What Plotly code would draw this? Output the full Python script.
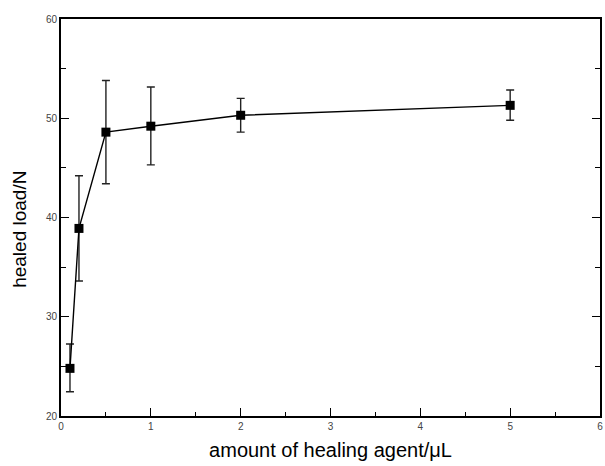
import plotly.graph_objects as go

amount = [0.1, 0.2, 0.5, 1, 2, 5]
load = [24.8, 38.9, 48.6, 49.2, 50.3, 51.3]
err_plus = [2.45, 5.3, 5.2, 3.95, 1.7, 1.55]
err_minus = [2.35, 5.3, 5.2, 3.9, 1.7, 1.5]

x_ticks = [0, 1, 2, 3, 4, 5, 6]
y_ticks = [20, 30, 40, 50, 60]

fig = go.Figure()
fig.add_trace(go.Scatter(
    x=amount, y=load, mode="lines+markers",
    line=dict(color="black", width=1.4),
    marker=dict(symbol="square", size=9, color="black"),
    error_y=dict(type="data", symmetric=False, array=err_plus, arrayminus=err_minus,
                 color="#222", thickness=1.4, width=4),
    showlegend=False,
))

font = "Arial, Liberation Sans, sans-serif"
fig.update_layout(
    width=605, height=466,
    margin=dict(l=61, r=3, t=19, b=50),
    paper_bgcolor="white", plot_bgcolor="white",
    font=dict(family=font, color="black"),
    xaxis=dict(
        range=[0, 6], tickvals=x_ticks, ticktext=[str(v) for v in x_ticks],
        ticks="inside", ticklen=8, tickwidth=1.4, tickcolor="black",
        minor=dict(dtick=0.5, ticks="inside", ticklen=4, tickwidth=1.4, tickcolor="black"),
        showline=True, linecolor="black", linewidth=1.6, mirror=True,
        showgrid=False, zeroline=False,
        tickfont=dict(size=10, color="#444", family=font),
        title=dict(text="amount of healing agent/\u03bcL", font=dict(size=20, family=font, color="black"), standoff=12),
    ),
    yaxis=dict(
        range=[20, 60], tickvals=y_ticks, ticktext=[str(v) for v in y_ticks],
        ticks="inside", ticklen=8, tickwidth=1.4, tickcolor="black",
        minor=dict(dtick=5, ticks="inside", ticklen=5, tickwidth=1.4, tickcolor="black"),
        showline=True, linecolor="black", linewidth=1.6, mirror="ticks",
        showgrid=False, zeroline=False,
        tickfont=dict(size=10, color="#444", family=font),
    ),
    annotations=[dict(
        text="healed load/N", textangle=-90, showarrow=False,
        xref="paper", yref="paper", x=-0.076, y=0.469,
        xanchor="center", yanchor="middle",
        font=dict(size=19, family=font, color="black"),
    )],
)

fig.write_html("out.html")
